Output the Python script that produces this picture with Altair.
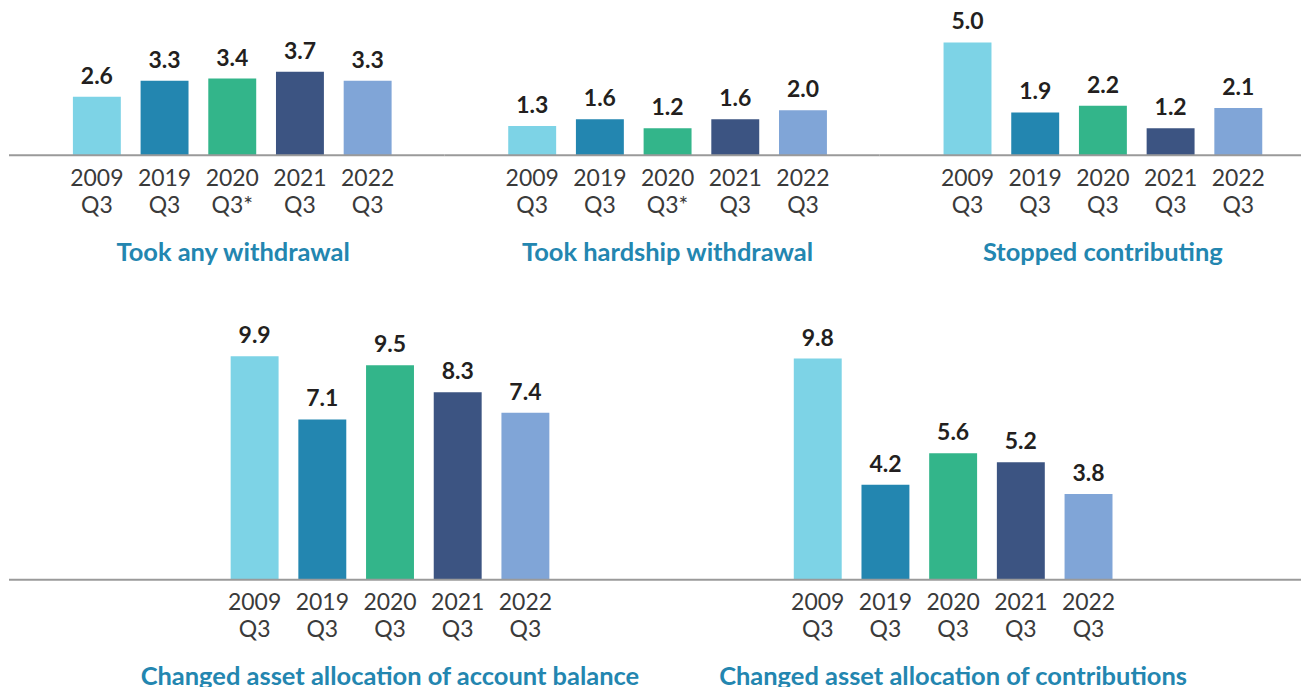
import altair as alt
import pandas as pd

years = ["2009", "2019", "2020", "2021", "2022"]
colors = ["#7dd3e6", "#2386b0", "#33b58a", "#3c5482", "#80a5d7"]

titles = [
    "Took any withdrawal",
    "Took hardship withdrawal",
    "Stopped contributing",
    "Changed asset allocation of account balance",
    "Changed asset allocation of contributions",
]
quarters = [
    ["Q3", "Q3", "Q3*", "Q3", "Q3"],
    ["Q3", "Q3", "Q3*", "Q3", "Q3"],
    ["Q3", "Q3", "Q3", "Q3", "Q3"],
    ["Q3", "Q3", "Q3", "Q3", "Q3"],
    ["Q3", "Q3", "Q3", "Q3", "Q3"],
]
values = [
    [2.6, 3.3, 3.4, 3.7, 3.3],
    [1.3, 1.6, 1.2, 1.6, 2.0],
    [5.0, 1.9, 2.2, 1.2, 2.1],
    [9.9, 7.1, 9.5, 8.3, 7.4],
    [9.8, 4.2, 5.6, 5.2, 3.8],
]

FONT = "Lato"
PX_PER_UNIT = 22.6
BAR_SPAN = 319.2  # from first bar's left edge to last bar's right edge


def panel(i, width, height, left, title_x, title_y):
    df = pd.DataFrame({
        "year": years,
        "xl": [f"{y} {q}" for y, q in zip(years, quarters[i])],
        "value": values[i],
    })
    base = alt.Chart(df).encode(
        x=alt.X(
            "xl:N",
            sort=None,
            scale=alt.Scale(paddingInner=0.292, paddingOuter=0, range=[left, left + BAR_SPAN]),
            axis=alt.Axis(
                title=titles[i],
                labelExpr="split(datum.label, ' ')",
                labelAngle=0,
                labelFont=FONT,
                labelFontSize=23,
                labelFontWeight="normal",
                labelColor="#3a3a3a",
                labelLineHeight=27,
                labelPadding=12,
                ticks=False,
                domain=False,
                titleFont=FONT,
                titleFontSize=25.5,
                titleFontWeight="bold",
                titleColor="#2386b0",
                titleX=title_x,
                titleY=title_y,
                titleAlign="center",
                titleBaseline="alphabetic",
                titleAngle=0,
            ),
        ),
        y=alt.Y(
            "value:Q",
            scale=alt.Scale(domain=[0, height / PX_PER_UNIT]),
            axis=None,
        ),
    )
    bars = base.mark_bar().encode(
        color=alt.Color("year:N", scale=alt.Scale(domain=years, range=colors), legend=None)
    )
    text = base.mark_text(
        dy=-8, baseline="bottom", font=FONT, fontSize=23, fontWeight="bold", color="#231f20"
    ).encode(text=alt.Text("value:Q", format=".1f"))
    baseline = alt.Chart(pd.DataFrame({"v": [0]})).mark_rule(
        color="#9a9a9a", strokeWidth=2
    ).encode(x=alt.value(0), x2=alt.value(width), y=alt.value(height))
    return (bars + baseline + text).properties(width=width, height=height)


top = alt.hconcat(
    panel(0, 436, 147, 64, 224, 105),
    panel(1, 436, 147, 64, 223, 105),
    panel(2, 422, 147, 64, 223, 105),
    spacing=0,
    bounds="flush",
)
bottom = alt.hconcat(
    panel(3, 663, 290, 222, 381, 105),
    panel(4, 631, 290, 123, 282, 105),
    spacing=0,
    bounds="flush",
)

chart = alt.vconcat(top, bottom, spacing=24).properties(
    padding=0
).configure(background="white").configure_view(strokeWidth=0, stroke="transparent")

chart.save("out.html", embed_options={"renderer": "svg", "actions": False})
